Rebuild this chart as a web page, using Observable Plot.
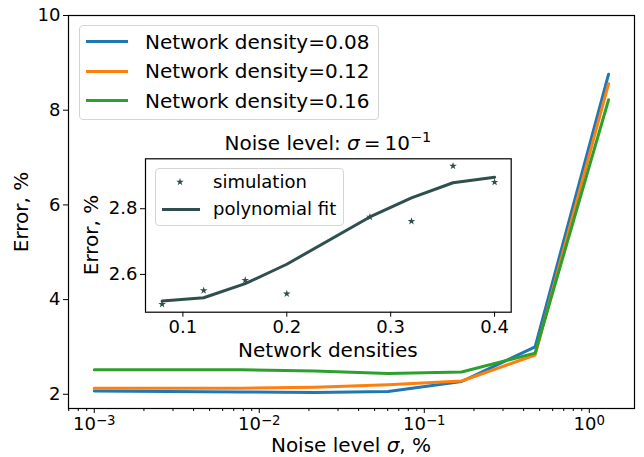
<!DOCTYPE html>
<html><head><meta charset="utf-8">
<script src="https://cdn.jsdelivr.net/npm/d3@7"></script>
<script src="https://cdn.jsdelivr.net/npm/@observablehq/plot@0.6"></script>
<style>
body{margin:0;background:#fff;font-family:"DejaVu Sans",sans-serif;}
#wrap{position:relative;width:644px;height:457px;overflow:hidden;background:#fff}
#wrap > svg{position:absolute;left:0;top:0}
.lbl{position:absolute;white-space:nowrap;color:#000;line-height:1;font-family:"DejaVu Sans",sans-serif}
</style></head><body><div id="wrap"></div>
<script>
// ---- main chart data ----
const noise = [0.001, 0.00279, 0.00777, 0.02167, 0.0604, 0.1684, 0.4695, 1.309];
const err008 = [2.07, 2.06, 2.05, 2.04, 2.06, 2.27, 3.00, 8.76];
const err012 = [2.13, 2.13, 2.13, 2.15, 2.20, 2.28, 2.83, 8.56];
const err016 = [2.52, 2.52, 2.52, 2.49, 2.44, 2.47, 2.87, 8.22];
const seriesNames = ["Network density=0.08", "Network density=0.12", "Network density=0.16"];
const seriesColors = ["#1f77b4", "#ff7f0e", "#2ca02c"];
const xMajor = [1e-3, 1e-2, 1e-1, 1e0];
const xMajorExp = ["\u22123", "\u22122", "\u22121", "0"];
const xMinor = [7e-4,8e-4,9e-4,2e-3,3e-3,4e-3,5e-3,6e-3,7e-3,8e-3,9e-3,2e-2,3e-2,4e-2,5e-2,6e-2,7e-2,8e-2,9e-2,0.2,0.3,0.4,0.5,0.6,0.7,0.8,0.9,2e0];
const yTicks = [2, 4, 6, 8, 10];

// ---- inset data ----
const densities = [0.08, 0.12, 0.16, 0.20, 0.28, 0.32, 0.36, 0.40];
const simulation = [2.509, 2.551, 2.582, 2.541, 2.775, 2.762, 2.930, 2.881];
const polyFit = [2.519, 2.529, 2.572, 2.631, 2.775, 2.833, 2.879, 2.896];
const insetXTicks = [0.1, 0.2, 0.3, 0.4];
const insetYTicks = [2.6, 2.8];
const insetColor = "#2f4f4f";

const W = 644, H = 457;
const rows = [];
[err008, err012, err016].forEach((arr, s) => arr.forEach((v, i) => rows.push({noise: noise[i], err: v, series: seriesNames[s]})));

const M = {left: 68, right: 10, top: 15, bottom: 49};
const main = Plot.plot({
  width: W, height: H,
  marginLeft: M.left, marginRight: M.right, marginTop: M.top, marginBottom: M.bottom,
  style: {fontFamily: "DejaVu Sans", fontSize: "18px", background: "transparent", color: "#000", overflow: "visible"},
  x: {type: "log", domain: [6.98e-4, 1.879]},
  y: {domain: [1.7, 10]},
  color: {domain: seriesNames, range: seriesColors},
  marks: [
    Plot.axisX(xMinor.filter(d => d >= 6.98e-4 && d <= 1.879), {tickSize: 3, tickFormat: () => "", label: null, stroke: "#000"}),
    Plot.axisX(xMajor, {tickSize: 5, tickPadding: 4, tickFormat: d => "10^" + xMajorExp[xMajor.indexOf(d)], label: null, fontSize: 18, stroke: "#000"}),
    Plot.axisY(yTicks, {tickSize: 5, tickPadding: 3, label: null, fontSize: 18, stroke: "#000"}),
    Plot.line(rows, {x: "noise", y: "err", z: "series", stroke: "series", strokeWidth: 3, strokeLinejoin: "round"}),
    Plot.frame({stroke: "#000", strokeWidth: 1.2})
  ]
});
// render exponents as raised tspans
d3.select(main).selectAll("text").each(function () {
  const t = this.textContent;
  if (t.startsWith("10^")) {
    const sel = d3.select(this);
    sel.text("10");
    sel.append("tspan").attr("dy", "-0.42em").attr("font-size", "0.74em").text(t.slice(3));
  }
});

const insetRows = densities.map((d, i) => ({d, sim: simulation[i], fit: polyFit[i]}));
const IF = {left: 145, top: 158.3, right: 510.7, bottom: 311.7};
const inset = Plot.plot({
  width: W, height: H,
  marginLeft: IF.left, marginRight: W - IF.right, marginTop: IF.top, marginBottom: H - IF.bottom,
  style: {fontFamily: "DejaVu Sans", fontSize: "18px", background: "transparent", color: "#000", overflow: "visible"},
  x: {domain: [0.064, 0.416]},
  y: {domain: [2.485, 2.952]},
  marks: [
    Plot.frame({fill: "#fff", stroke: "none"}),
    Plot.axisX(insetXTicks, {tickSize: 5, tickPadding: 3, label: null, fontSize: 18, stroke: "#000"}),
    Plot.axisY(insetYTicks, {tickSize: 5, tickPadding: 3, label: null, fontSize: 18, stroke: "#000"}),
    Plot.line(insetRows, {x: "d", y: "fit", stroke: insetColor, strokeWidth: 3, strokeLinejoin: "round"}),
    Plot.dot(insetRows, {x: "d", y: "sim", symbol: "star", r: 2.4, fill: insetColor, stroke: "none"}),
    Plot.frame({stroke: "#000", strokeWidth: 1.2})
  ]
});

const wrap = document.getElementById("wrap");
wrap.appendChild(main);
wrap.appendChild(inset);

function addLabel(html, x, y, size, anchor, rotate) {
  const el = document.createElement("div");
  el.className = "lbl";
  el.innerHTML = html;
  el.style.fontSize = size + "px";
  el.style.left = x + "px";
  el.style.top = y + "px";
  let t = "translate(-50%,-50%)";
  if (anchor === "left") t = "translate(0,-50%)";
  if (rotate) t += " rotate(-90deg)";
  el.style.transform = t;
  wrap.appendChild(el);
  return el;
}
// axis labels
addLabel("Noise level <i>σ</i>, %", (M.left + W - M.right) / 2, 445, 20, "center");
addLabel("Error, %", 20.5, 211.5, 20, "center", true);
addLabel("Noise level: <i>σ</i>\u2009=\u200910<sup style=\"font-size:0.72em;vertical-align:0.55em;line-height:0\">\u22121</sup>", (IF.left + IF.right) / 2, 143, 20, "center");
addLabel("Network densities", (IF.left + IF.right) / 2, 349.5, 20, "center");
addLabel("Error, %", 91, 235, 20, "center", true);

// main legend
const leg = document.createElement("div");
Object.assign(leg.style, {position: "absolute", left: "79px", top: "25px", width: "300px", height: "95px",
  border: "1px solid #d5d5d5", borderRadius: "4px", background: "rgba(255,255,255,0.8)", boxSizing: "border-box"});
wrap.appendChild(leg);
const legY = [41.7, 71, 100.7];
seriesNames.forEach((name, i) => {
  const sw = document.createElement("div");
  Object.assign(sw.style, {position: "absolute", left: "86px", top: (legY[i] - 1.5) + "px", width: "42px", height: "3px", background: seriesColors[i]});
  wrap.appendChild(sw);
  addLabel(name, 145, legY[i], 20, "left");
});

// inset legend
const leg2 = document.createElement("div");
Object.assign(leg2.style, {position: "absolute", left: "155px", top: "168px", width: "189px", height: "58px",
  border: "1px solid #d5d5d5", borderRadius: "4px", background: "rgba(255,255,255,0.8)", boxSizing: "border-box"});
wrap.appendChild(leg2);
const starSvg = document.createElementNS("http://www.w3.org/2000/svg", "svg");
starSvg.setAttribute("width", "20"); starSvg.setAttribute("height", "20");
Object.assign(starSvg.style, {position: "absolute", left: "170px", top: "171.7px"});
const starPath = document.createElementNS("http://www.w3.org/2000/svg", "path");
starPath.setAttribute("d", d3.symbol(d3.symbolStar, 18)());
starPath.setAttribute("transform", "translate(10,10)");
starPath.setAttribute("fill", insetColor);
starSvg.appendChild(starPath);
wrap.appendChild(starSvg);
const sw2 = document.createElement("div");
Object.assign(sw2.style, {position: "absolute", left: "162px", top: "207.5px", width: "38px", height: "3px", background: insetColor});
wrap.appendChild(sw2);
addLabel("simulation", 213, 181.7, 18, "left");
addLabel("polynomial fit", 213, 209, 18, "left");
</script></body></html>
